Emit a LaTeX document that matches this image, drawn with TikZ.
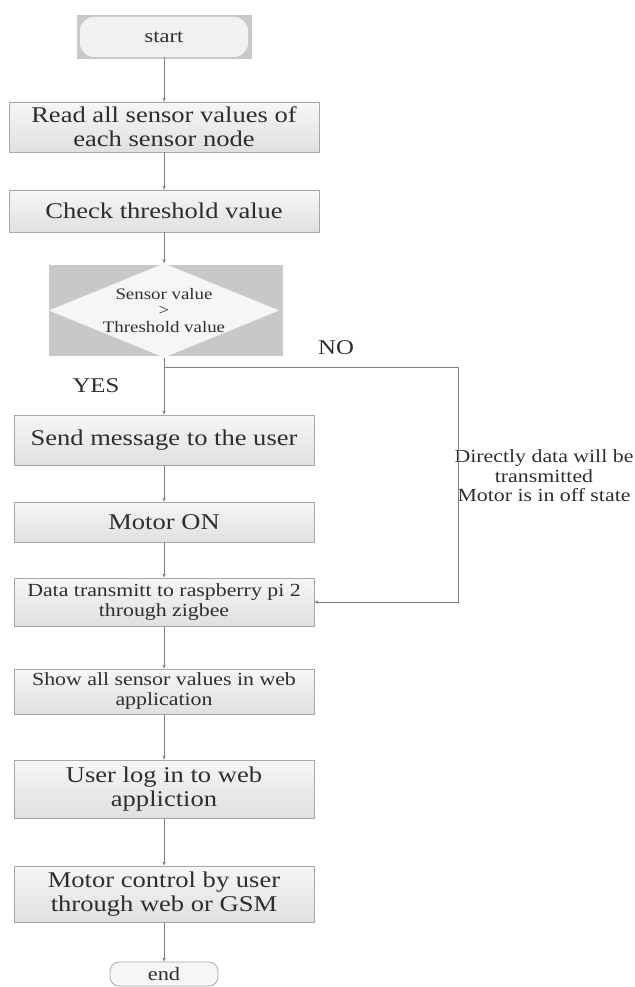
\documentclass[tikz,border=0pt]{standalone}
\usepackage{fontspec}
\setmainfont{Liberation Serif}[FakeStretch=1.18]
\usepackage{tikz}
\usetikzlibrary{positioning,shapes.geometric,arrows.meta}
\definecolor{FlowLine}{HTML}{808080}
\definecolor{BoxEdge}{HTML}{A8A8A8}
\definecolor{BoxTop}{HTML}{F6F6F6}
\definecolor{BoxBottom}{HTML}{E0E0E0}
\definecolor{BackGray}{HTML}{C8C8C8}
\definecolor{FlowText}{HTML}{2E2E2E}

\tikzset{
  procbox/.style={rectangle, draw=BoxEdge, line width=0.8pt, top color=BoxTop,
    bottom color=BoxBottom, align=center, text=FlowText, inner sep=0pt,
    minimum width=300pt},
  bigtext/.style={font=\fontsize{22.5}{24}\selectfont},
  smalltext/.style={font=\fontsize{18.5}{20}\selectfont},
  termbox/.style={rectangle, rounded corners=9pt, draw=BoxEdge, line width=0.8pt,
    fill=BoxTop, text=FlowText, inner sep=0pt, font=\fontsize{19}{20}\selectfont},
  decision/.style={diamond, aspect=2.45, fill=BoxTop, inner sep=0pt,
    minimum width=228pt, minimum height=91pt, align=center, text=FlowText,
    font=\fontsize{16}{16.5}\selectfont},
  flowline/.style={draw=FlowLine, line width=0.7pt, -{Stealth[length=4pt,width=3.5pt]}},
}

\begin{document}
\begin{tikzpicture}[x=1pt, y=-1pt]
  \useasboundingbox (0,0) rectangle (634,987);

  % start
  \fill[BackGray] (77,15) rectangle (252,59);
  \node[termbox, rounded corners=14pt, minimum width=168pt, minimum height=40pt,
    draw=none, fill=BoxTop!90!BackGray] (start) at (164,37) {start};

  \node[procbox, bigtext, minimum width=310pt, minimum height=50pt] (read) at (164,127)
    {Read all sensor values of\\each sensor node};
  \node[procbox, bigtext, minimum width=310pt, minimum height=42pt] (check) at (164,211)
    {Check threshold value};

  % decision
  \fill[BackGray] (49,265) rectangle (283,356);
  \node[decision] (dec) at (164,310.5) {Sensor value\\{>}\\Threshold value};

  \node[procbox, bigtext, minimum height=50pt] (send) at (164,440) {Send message to the user};
  \node[procbox, bigtext, minimum height=40pt] (motoron) at (164,522) {Motor ON};
  \node[procbox, smalltext, minimum height=48pt] (data) at (164,602)
    {Data transmitt to raspberry pi 2\\through zigbee};
  \node[procbox, smalltext, minimum height=45pt] (show) at (164,691.5)
    {Show all sensor values in web\\application};
  \node[procbox, bigtext, minimum height=58pt] (login) at (164,789)
    {User log in to web\\appliction};
  \node[procbox, bigtext, minimum height=56pt] (control) at (164,894)
    {Motor control by user\\through web or GSM};
  \node[termbox, minimum width=108pt, minimum height=24pt] (end) at (164,974) {end};

  % labels
  \node[font=\fontsize{21}{22}\selectfont, text=FlowText] (yes) at (96,386) {YES};
  \node[font=\fontsize{21}{22}\selectfont, text=FlowText] (no) at (336,348) {NO};
  \node[font=\fontsize{18.5}{19.5}\selectfont, text=FlowText, align=center] (direct) at (544,476)
    {Directly data will be\\transmitted\\Motor is in off state};

  % connectors
  \draw[flowline] (start) -- (read);
  \draw[flowline] (read) -- (check);
  \draw[flowline] (check) -- (dec.north);
  \draw[flowline] (dec.south) -- (send);
  \draw[flowline] (send) -- (motoron);
  \draw[flowline] (motoron) -- (data);
  \draw[flowline] (data) -- (show);
  \draw[flowline] (show) -- (login);
  \draw[flowline] (login) -- (control);
  \draw[flowline] (control) -- (end);

  \coordinate (branch) at (164,367);
  \coordinate (nocorner) at (458,367);
  \draw[flowline] (branch) -- (nocorner) |- (data.east);
\end{tikzpicture}
\end{document}
